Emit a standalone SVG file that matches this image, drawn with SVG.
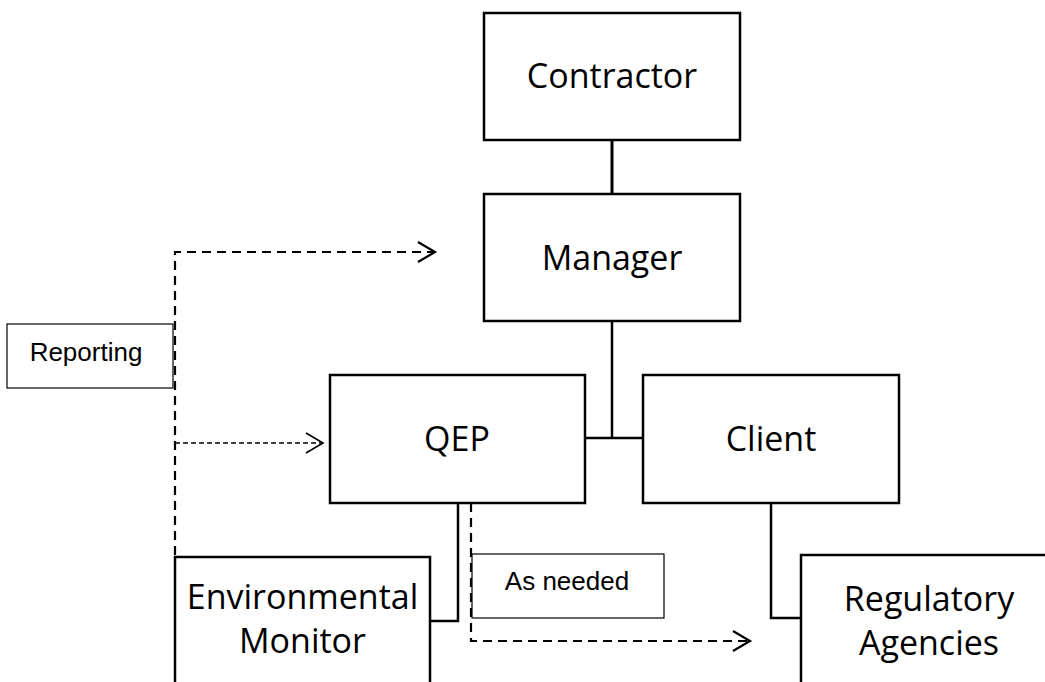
<svg xmlns="http://www.w3.org/2000/svg" width="1045" height="682" viewBox="0 0 1045 682">
<style>
.box{fill:#fff;stroke:#000;stroke-width:2.5}
.lbl{fill:#fff;stroke:#000;stroke-width:1.2}
.t{font-family:"Open Sans","Noto Sans",sans-serif;font-size:34px;fill:#000;text-anchor:middle}
.s{font-family:"Liberation Sans",Arial,sans-serif;font-size:26px;fill:#000;text-anchor:middle}
.solid{fill:none;stroke:#000;stroke-width:2.5}
.dash{fill:none;stroke:#000;stroke-width:2.2;stroke-dasharray:9 6}
.dash2{fill:none;stroke:#000;stroke-width:1.4;stroke-dasharray:5 3}
.head{fill:none;stroke:#000;stroke-width:2.2}
</style>
<rect width="1045" height="682" fill="#fff"/>
<g id="connectors">
  <line class="solid" x1="612" y1="140" x2="612" y2="194" style="stroke-width:3"/>
  <polyline class="solid" points="612,321 612,438"/>
  <line class="solid" x1="585" y1="438" x2="643" y2="438"/>
  <polyline class="solid" points="458,503 458,621 430,621"/>
  <polyline class="solid" points="771,503 771,618 801,618"/>
  <polyline class="dash" points="175,555 175,252 433,252"/>
  <polyline class="head" points="418,242 435,252 418,262"/>
  <line class="dash2" x1="175" y1="443" x2="321" y2="443"/>
  <polyline class="head" points="306,433 323,443 306,453" style="stroke-width:1.6"/>
  <polyline class="dash" points="471,503 471,641 748,641"/>
  <polyline class="head" points="733,631 750,641 733,651"/>
</g>
<g id="contractor">
  <rect class="box" x="484" y="13" width="256" height="127"/>
  <text class="t" x="612" y="88">Contractor</text>
</g>
<g id="manager">
  <rect class="box" x="484" y="194" width="256" height="127"/>
  <text class="t" x="612" y="270">Manager</text>
</g>
<g id="qep">
  <rect class="box" x="330" y="375" width="255" height="128"/>
  <text class="t" x="457" y="451">QEP</text>
</g>
<g id="client">
  <rect class="box" x="643" y="375" width="256" height="128"/>
  <text class="t" x="771" y="451">Client</text>
</g>
<g id="environmental-monitor">
  <rect class="box" x="175" y="557" width="255" height="140"/>
  <text class="t" x="302.5" y="609">Environmental</text>
  <text class="t" x="302.5" y="653">Monitor</text>
</g>
<g id="regulatory-agencies">
  <rect class="box" x="801" y="555" width="256" height="140"/>
  <text class="t" x="929" y="611">Regulatory</text>
  <text class="t" x="929" y="655">Agencies</text>
</g>
<g id="reporting">
  <rect class="lbl" x="7" y="324" width="166" height="64"/>
  <text class="s" x="86" y="361">Reporting</text>
</g>
<g id="as-needed">
  <rect class="lbl" x="472" y="554" width="192" height="64"/>
  <text class="s" x="567" y="590">As needed</text>
</g>
</svg>
